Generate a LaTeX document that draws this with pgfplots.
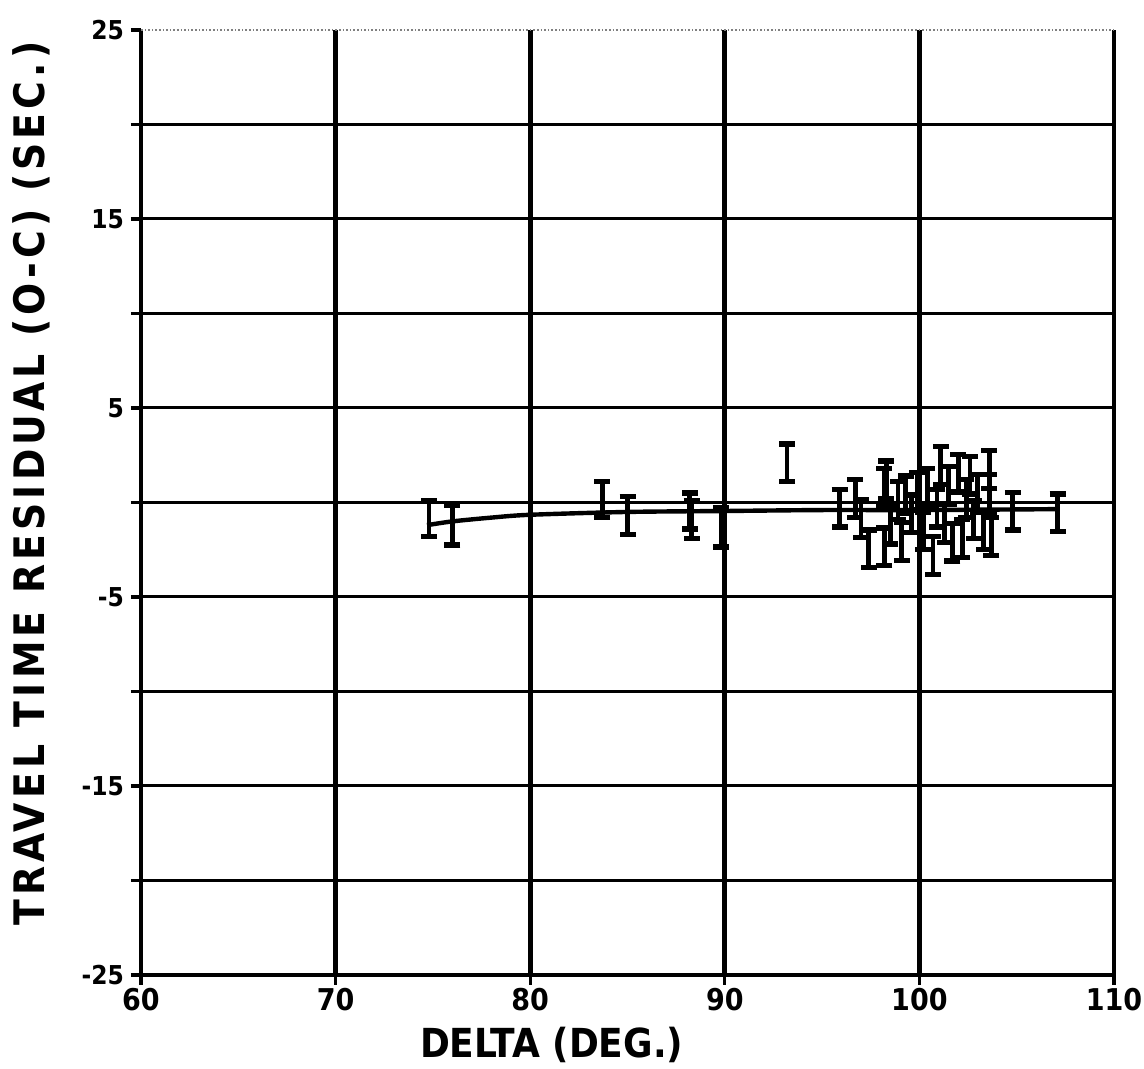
\documentclass[border=0pt]{standalone}
\usepackage{fontspec}
\setmainfont{DejaVu Sans Condensed}
\usepackage{pgfplots}
\pgfplotsset{compat=1.18}
\begin{document}
\begin{tikzpicture}
\useasboundingbox (-70.5pt,-47pt) rectangle (501.5pt,487.5pt);
\begin{axis}[
  at={(0,0)}, anchor=south west,
  scale only axis, width=486.5pt, height=472.5pt,
  xmin=60, xmax=110, ymin=-25, ymax=25,
  axis x line*=bottom, axis y line*=left,
  axis line style={line width=2.4pt},
  xtick={60,70,80,90,100,110},
  ytick={-20,-15,...,20},
  yticklabels={,-15,,-5,,5,,15,},
  extra y ticks={-25,25},
  extra y tick labels={-25,25},
  extra y tick style={grid=none},
  xmajorgrids, ymajorgrids,
  x grid style={line width=2.4pt, black},
  y grid style={line width=1.5pt, black},
  tick align=outside,
  major tick length=5pt,
  tick style={line width=1.6pt, black},
  /pgf/number format/assume math mode=true,
  ticklabel style={font=\bfseries\fontsize{13}{13}\selectfont},
  xticklabel style={font=\bfseries\fontsize{15}{15}\selectfont, yshift=2pt},
  xlabel={DELTA (DEG.)},
  ylabel={TRAVEL TIME RESIDUAL (O-C) (SEC.)},
  xlabel style={font=\bfseries\fontsize{20}{20}\selectfont, at={(axis description cs:0.422,0)}, anchor=center, yshift=-35pt},
  ylabel style={font=\bfseries\fontsize{21}{21}\selectfont\addfontfeature{LetterSpace=10}, at={(axis description cs:0,0.52)}, anchor=center, yshift=55pt},
  clip=false,
]
\draw[densely dotted, line width=0.8pt, gray] (axis cs:60,25) -- (axis cs:110,25);
% model curve
\addplot[black, line width=2.2pt, no marks, smooth] coordinates {
(74.7,-1.2) (76,-1.0) (78,-0.8) (80,-0.65) (85,-0.5) (90,-0.45) (95,-0.4) (100,-0.4) (107.2,-0.35)
};
% observations with error bars
\addplot[draw=none, mark=none,
  error bars/.cd, y dir=both, y explicit,
  error bar style={draw=black, line width=2.4pt},
  error mark options={draw=black, line width=2.6pt, mark size=4pt, rotate=90}]
  table[x=x, y=y, y error=e] {
x y e
74.8 -0.85 0.95
76.0 -1.2 1.05
83.7 0.15 0.95
85.0 -0.7 1.0
88.2 -0.45 0.95
88.3 -0.9 1.0
89.8 -1.3 1.05
93.2 2.1 1.0
95.9 -0.3 1.0
96.7 0.2 1.0
97.0 -0.85 1.0
97.4 -2.45 1.0
98.3 1.2 1.0
98.2 0.8 1.0
98.2 -2.35 1.0
98.5 -1.2 1.0
98.9 0.1 1.0
99.1 -2.05 1.0
99.3 0.4 1.0
99.6 -0.6 1.0
99.9 0.6 1.0
100.2 -1.5 1.0
100.4 0.8 1.0
100.7 -2.8 1.0
100.9 -0.3 1.0
101.1 1.95 1.0
101.3 -1.1 1.0
101.5 0.9 1.0
101.7 -2.1 1.0
102.0 1.55 1.0
102.2 -1.9 1.0
102.4 0.2 1.0
102.6 1.45 1.0
102.8 -0.9 1.0
103.0 0.5 1.0
103.3 -1.5 1.0
103.6 1.75 1.0
103.7 -1.8 1.0
103.6 0.5 1.0
104.8 -0.45 1.0
107.1 -0.55 1.0
};
\end{axis}
\end{tikzpicture}
\end{document}
